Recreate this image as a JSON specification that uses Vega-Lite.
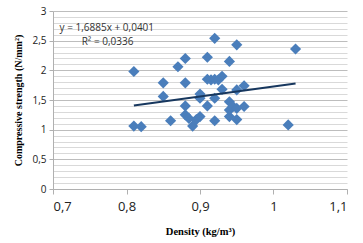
{
  "$schema": "https://vega.github.io/schema/vega-lite/v6.json",
  "autosize": "none",
  "width": 294,
  "height": 178,
  "padding": {"left": 53, "top": 11, "right": 16, "bottom": 54},
  "background": "white",
  "config": {"view": {"stroke": null}},
  "datasets": {
    "pts": [
      {"density": 0.81, "strength": 1.98},
      {"density": 0.81, "strength": 1.06},
      {"density": 0.82, "strength": 1.05},
      {"density": 0.85, "strength": 1.79},
      {"density": 0.85, "strength": 1.56},
      {"density": 0.86, "strength": 1.15},
      {"density": 0.87, "strength": 2.06},
      {"density": 0.88, "strength": 2.2},
      {"density": 0.88, "strength": 1.79},
      {"density": 0.88, "strength": 1.4},
      {"density": 0.88, "strength": 1.25},
      {"density": 0.885, "strength": 1.19},
      {"density": 0.89, "strength": 1.06},
      {"density": 0.895, "strength": 1.17},
      {"density": 0.9, "strength": 1.22},
      {"density": 0.9, "strength": 1.6},
      {"density": 0.9, "strength": 1.53},
      {"density": 0.91, "strength": 1.4},
      {"density": 0.91, "strength": 2.22},
      {"density": 0.91, "strength": 1.85},
      {"density": 0.915, "strength": 1.84},
      {"density": 0.92, "strength": 2.54},
      {"density": 0.92, "strength": 1.85},
      {"density": 0.92, "strength": 1.53},
      {"density": 0.92, "strength": 1.15},
      {"density": 0.925, "strength": 1.84},
      {"density": 0.93, "strength": 1.9},
      {"density": 0.93, "strength": 1.68},
      {"density": 0.94, "strength": 2.15},
      {"density": 0.94, "strength": 1.47},
      {"density": 0.94, "strength": 1.33},
      {"density": 0.94, "strength": 1.22},
      {"density": 0.945, "strength": 1.39},
      {"density": 0.95, "strength": 2.43},
      {"density": 0.95, "strength": 1.67},
      {"density": 0.95, "strength": 1.36},
      {"density": 0.95, "strength": 1.17},
      {"density": 0.96, "strength": 1.74},
      {"density": 0.96, "strength": 1.39},
      {"density": 1.02, "strength": 1.08},
      {"density": 1.03, "strength": 2.36}
    ],
    "trend": [
      {"density": 0.81, "strength": 1.408},
      {"density": 1.03, "strength": 1.779}
    ],
    "labels": [
      {"density": 0.709, "strength": 2.71, "text": "y = 1,6885x + 0,0401"},
      {"density": 0.739, "strength": 2.48, "text": "R² = 0,0336"}
    ]
  },
  "layer": [
    {
      "data": {"name": "pts"},
      "mark": {"type": "point", "shape": "diamond", "filled": true, "color": "#4a7ebb", "opacity": 1, "size": 125},
      "encoding": {
        "x": {
          "field": "density", "type": "quantitative",
          "scale": {"domain": [0.7, 1.1], "nice": false, "zero": false},
          "axis": {
            "title": "Density (kg/m³)",
            "titleFont": "Liberation Serif", "titleFontWeight": "bold", "titleFontSize": 10.5, "titleColor": "#000",
            "titlePadding": 13,
            "values": [0.7, 0.8, 0.9, 1.0, 1.1],
            "tickCount": 5,
            "labelExpr": "replace(format(datum.value, '~g'), '.', ',')",
            "labelFont": "Open Sans", "labelFontSize": 13, "labelColor": "#222",
            "labelPadding": 6,
            "domainColor": "#b0b0b0", "tickColor": "#b0b0b0", "tickSize": 5,
            "grid": false
          }
        },
        "y": {
          "field": "strength", "type": "quantitative",
          "scale": {"domain": [0, 3], "nice": false},
          "axis": {
            "title": "Compressive strength (N/mm²)",
            "titleFont": "Liberation Serif", "titleFontWeight": "bold", "titleFontSize": 10, "titleColor": "#000",
            "titlePadding": 8,
            "values": [0, 0.1, 0.2, 0.3, 0.4, 0.5, 0.6, 0.7, 0.8, 0.9, 1, 1.1, 1.2, 1.3, 1.4, 1.5, 1.6, 1.7, 1.8, 1.9, 2, 2.1, 2.2, 2.3, 2.4, 2.5, 2.6, 2.7, 2.8, 2.9, 3],
            "tickCount": 31,
            "labelOverlap": false,
            "labelExpr": "round(datum.value*10) % 5 == 0 ? replace(format(datum.value, '~g'), '.', ',') : ''",
            "labelFont": "Open Sans", "labelFontSize": 10, "labelColor": "#222",
            "labelPadding": 3,
            "domainColor": "#b0b0b0",
            "tickColor": "#b0b0b0", "tickSize": 4,
            "tickOpacity": {"condition": {"test": "round(datum.value*10) % 5 == 0", "value": 1}, "value": 0},
            "grid": true,
            "gridColor": {"condition": {"test": "round(datum.value*10) % 5 == 0", "value": "#bdbdbd"}, "value": "#d9d9d9"},
            "gridWidth": 1
          }
        }
      }
    },
    {
      "data": {"name": "trend"},
      "mark": {"type": "line", "color": "#17375e", "strokeWidth": 2},
      "encoding": {
        "x": {"field": "density", "type": "quantitative"},
        "y": {"field": "strength", "type": "quantitative"}
      }
    },
    {
      "data": {"name": "labels"},
      "mark": {"type": "text", "align": "left", "baseline": "middle", "font": "Open Sans", "fontSize": 10, "color": "#333"},
      "encoding": {
        "x": {"field": "density", "type": "quantitative"},
        "y": {"field": "strength", "type": "quantitative"},
        "text": {"field": "text"}
      }
    }
  ]
}
